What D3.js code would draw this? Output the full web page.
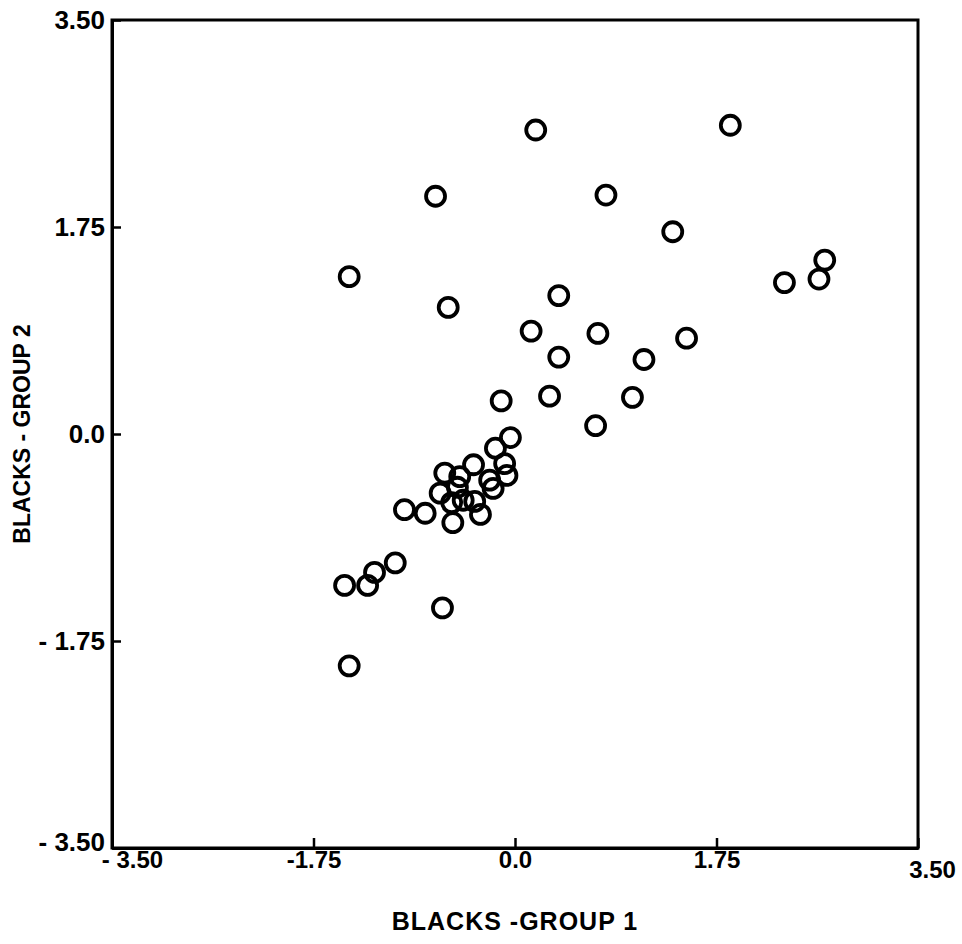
<!DOCTYPE html>
<html>
<head>
<meta charset="utf-8">
<script src="https://cdn.jsdelivr.net/npm/d3@7"></script>
<style>
  html, body { margin: 0; padding: 0; background: #fff; }
  text { font-family: "Liberation Sans", Arial, sans-serif; fill: #000; }
</style>
</head>
<body>
<svg id="chart" width="962" height="944"></svg>
<script>
// Data
const xValues = [0.18, 1.87, -0.69, 0.79, 1.37, -1.44, -0.58, 0.38, 2.69, 2.34, 2.64,
  0.14, 0.72, 1.49, 0.38, 1.12, 0.30, 1.02, -0.12, 0.70, -0.04, -0.17, -0.61, -0.36,
  -0.09, -0.07, -0.22, -0.19, -0.48, -0.65, -0.50, -0.45, -0.35, -0.55, -0.54, -0.30,
  -0.96, -0.78, -1.04, -1.22, -1.28, -1.48, -0.63, -1.44];
const yValues = [2.57, 2.61, 2.01, 2.02, 1.71, 1.33, 1.07, 1.17, 1.47, 1.28, 1.31,
  0.87, 0.85, 0.81, 0.65, 0.63, 0.32, 0.31, 0.28, 0.07, -0.03, -0.12, -0.33, -0.26,
  -0.25, -0.35, -0.39, -0.46, -0.36, -0.50, -0.45, -0.56, -0.57, -0.58, -0.75, -0.68,
  -0.64, -0.67, -1.09, -1.17, -1.28, -1.28, -1.47, -1.96];
const tickValues = [-3.5, -1.75, 0, 1.75, 3.5];
const xTickLabels = ["- 3.50", "-1.75", "0.0", "1.75", "3.50"];
const yTickLabels = ["- 3.50", "- 1.75", "0.0", "1.75", "3.50"];
const xTitle = "BLACKS -GROUP 1";
const yTitle = "BLACKS - GROUP 2";

const svg = d3.select("#chart");
const margin = { left: 112, top: 20, right: 44, bottom: 96 };
const W = 962, H = 944;
const x = d3.scaleLinear().domain([-3.5, 3.5]).range([margin.left, W - margin.right]);
const y = d3.scaleLinear().domain([-3.5, 3.5]).range([H - margin.bottom, margin.top]);

// Frame
svg.append("rect")
  .attr("x", x(-3.5)).attr("y", y(3.5))
  .attr("width", x(3.5) - x(-3.5)).attr("height", y(-3.5) - y(3.5))
  .attr("fill", "none").attr("stroke", "#000").attr("stroke-width", 3);

// Bottom axis
const xAxis = d3.axisBottom(x)
  .tickValues(tickValues)
  .tickSizeInner(-10).tickSizeOuter(0).tickPadding(4)
  .tickFormat((d, i) => xTickLabels[i]);
const gx = svg.append("g").attr("transform", `translate(0,${y(-3.5)})`).call(xAxis);
gx.select(".domain").attr("stroke", "#000").attr("stroke-width", 3);
gx.selectAll(".tick line").attr("stroke", "#000").attr("stroke-width", 2.5);
gx.selectAll(".tick text")
  .attr("font-size", 24).attr("font-weight", "bold")
  .attr("font-family", "Liberation Sans, Arial, sans-serif")
  .attr("dx", (d, i) => i === 0 ? 20 : (i === 4 ? 14 : 0))
  .attr("dy", (d, i) => i === 4 ? "1.1em" : "0.68em");

// Left axis
const yAxis = d3.axisLeft(y)
  .tickValues(tickValues)
  .tickSizeInner(-9).tickSizeOuter(0).tickPadding(7)
  .tickFormat((d, i) => yTickLabels[i]);
const gy = svg.append("g").attr("transform", `translate(${x(-3.5)},0)`).call(yAxis);
gy.select(".domain").attr("stroke", "#000").attr("stroke-width", 3);
gy.selectAll(".tick line").attr("stroke", "#000").attr("stroke-width", 2.5);
gy.selectAll(".tick text")
  .attr("font-size", 26).attr("font-weight", "bold")
  .attr("font-family", "Liberation Sans, Arial, sans-serif")
  .attr("dy", (d, i) => i === 0 ? "0.1em" : "0.32em");

// Points
const pts = xValues.map((v, i) => ({ x: v, y: yValues[i] }));
svg.append("g").selectAll("circle").data(pts).join("circle")
  .attr("cx", d => x(d.x)).attr("cy", d => y(d.y))
  .attr("r", 9.5)
  .attr("fill", "none").attr("stroke", "#000").attr("stroke-width", 3.8);

// Axis titles
svg.append("text")
  .attr("x", x(0)).attr("y", 930)
  .attr("text-anchor", "middle")
  .attr("font-size", 25).attr("font-weight", "bold")
  .attr("letter-spacing", 1)
  .text(xTitle);

svg.append("text")
  .attr("transform", `translate(30,${y(0)}) rotate(-90)`)
  .attr("text-anchor", "middle")
  .attr("font-size", 23).attr("font-weight", "bold")
  .text(yTitle);
</script>
</body>
</html>
